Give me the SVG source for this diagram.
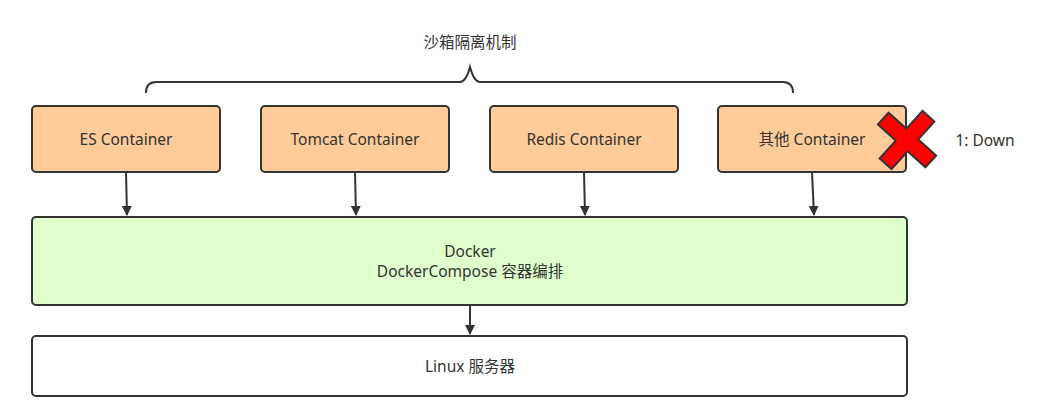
<svg xmlns="http://www.w3.org/2000/svg" width="1041" height="420" viewBox="0 0 1041 420">
<style>
.t{font-family:"Noto Sans","Open Sans","Noto Sans CJK SC",sans-serif;font-size:15.5px;fill:#333;text-anchor:middle;dominant-baseline:central}
.c{fill:#FFCC99;stroke:#333;stroke-width:2}
.ln{stroke:#333;stroke-width:2;fill:none}
</style>
<defs>
<marker id="ah" markerWidth="10" markerHeight="12" refX="9" refY="5" orient="auto" markerUnits="userSpaceOnUse">
<path d="M0,0 L10,5 L0,10 Z" fill="#333"/>
</marker>
</defs>
<rect width="1041" height="420" fill="#fff"/>
<g id="label-sandbox"><text class="t" x="470" y="42">沙箱隔离机制</text></g>
<g id="brace"><path class="ln" d="M146,93 Q146,82 156,82 L460,82 Q466,82 470,67 Q474,82 480,82 L783,82 Q793,82 793,93"/></g>
<g id="es"><rect class="c" x="32" y="106" width="188" height="66" rx="4"/><text class="t" x="126" y="139">ES Container</text></g>
<g id="tomcat"><rect class="c" x="261" y="106" width="188" height="66" rx="4"/><text class="t" x="355" y="139">Tomcat Container</text></g>
<g id="redis"><rect class="c" x="490" y="106" width="188" height="66" rx="4"/><text class="t" x="584" y="139">Redis Container</text></g>
<g id="other"><rect class="c" x="718" y="106" width="188" height="66" rx="4"/><text class="t" x="812" y="139">其他 Container</text></g>
<g id="docker"><rect x="32" y="217" width="875" height="88" rx="4" fill="#DFFFCC" stroke="#333" stroke-width="2"/><text class="t" x="470" y="251">Docker</text><text class="t" x="470" y="271">DockerCompose 容器编排</text></g>
<g id="linux"><rect x="32" y="336" width="875" height="60" rx="4" fill="#fff" stroke="#333" stroke-width="2"/><text class="t" x="470" y="366">Linux 服务器</text></g>
<g id="cross"><path transform="translate(907,140) rotate(42)" d="M-8,-32 H8 V-8 H32 V8 H8 V32 H-8 V8 H-32 V-8 H-8 Z" fill="#FF0000" stroke="#333" stroke-width="2" stroke-linejoin="miter"/></g>
<g id="label-down"><text class="t" x="985" y="140">1: Down</text></g>
<g id="connectors">
<line class="ln" x1="126" y1="172" x2="127" y2="215" marker-end="url(#ah)"/>
<line class="ln" x1="355" y1="172" x2="356" y2="215" marker-end="url(#ah)"/>
<line class="ln" x1="584" y1="172" x2="585" y2="215" marker-end="url(#ah)"/>
<line class="ln" x1="812" y1="172" x2="814" y2="215" marker-end="url(#ah)"/>
<line class="ln" x1="470" y1="305" x2="470" y2="334" marker-end="url(#ah)"/>
</g>
</svg>
